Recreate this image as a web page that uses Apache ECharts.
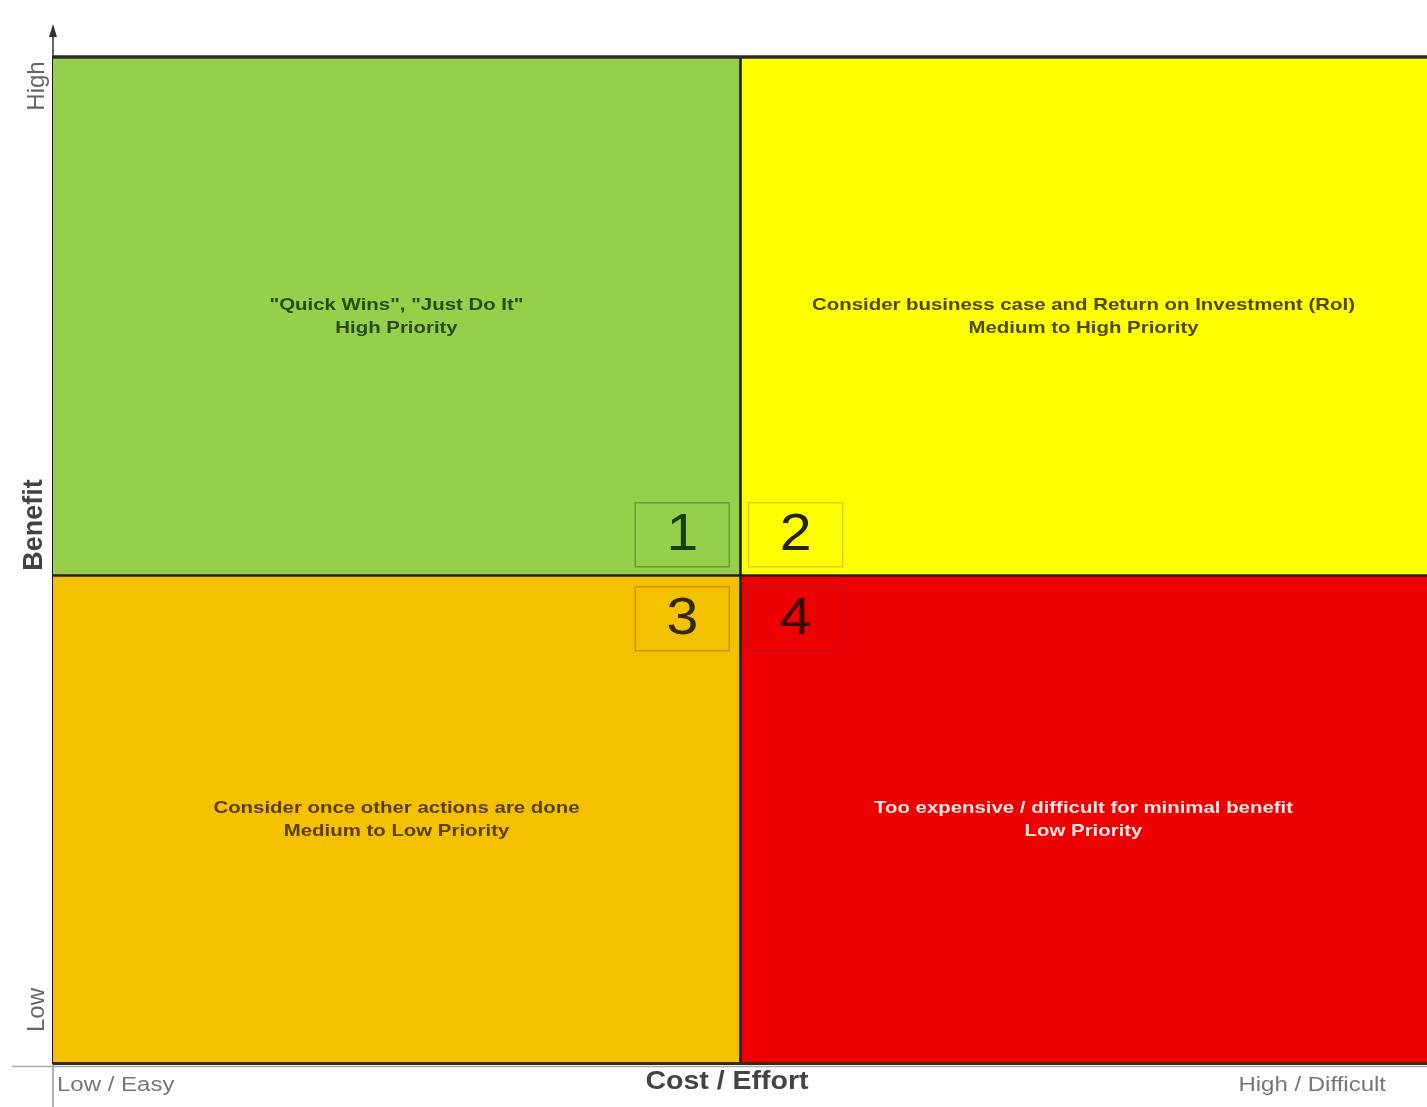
<!DOCTYPE html>
<html><head><meta charset="utf-8">
<script src="https://cdn.jsdelivr.net/npm/echarts@6/dist/echarts.min.js"></script>
<style>html,body{margin:0;padding:0;background:#fff}#c{width:1427px;height:1107px}</style>
</head><body><div id="c"></div>
<script>
// quadrant extents in data units: [x0, x1, y0, y1]
const xSplit = 1.0;
const ySplit = 0.968;
const quadrantBounds = [[0,xSplit,ySplit,2],[xSplit,2,ySplit,2],[0,xSplit,0,ySplit],[xSplit,2,0,ySplit]];
const quadrantTitles = ['"Quick Wins", "Just Do It"','Consider business case and Return on Investment (RoI)','Consider once other actions are done','Too expensive / difficult for minimal benefit'];
const quadrantPriorities = ['High Priority','Medium to High Priority','Medium to Low Priority','Low Priority'];
const numberLabels = ['1','2','3','4'];
const numberX = [0.916, 1.081, 0.916, 1.081];
const numberY = [1.050, 1.050, 0.883, 0.883];
const xTickLabels = ['Low / Easy','High / Difficult'];
const yTickLabels = ['Low','High'];
const xAxisTitle = 'Cost / Effort';
const yAxisTitle = 'Benefit';

const fillColors = ['#97cf4b','#ffff00','#f4c100','#ee0000'];
const textColors = ['#2a4a17','#4e4800','#5a3f00','#ffe6e6'];
const numColors = ['#1b3d0f','#222210','#33260a','#3a0606'];
const boxBorders = ['rgba(60,110,40,0.5)','rgba(150,150,80,0.4)','rgba(150,110,40,0.5)','rgba(120,40,110,0.4)'];
const FONT = '"Liberation Sans", Arial, sans-serif';
const SX = 1.2;

const chart = echarts.init(document.getElementById('c'));
const L = 53, T = 57, B = 44;

const quadData = quadrantBounds.map((b,i)=>({value:[b[0],b[1],b[2],b[3],i]}));
const numData = numberLabels.map((n,i)=>({value:[numberX[i],numberY[i],i]}));

chart.setOption({
  animation:false,
  grid:{left:L,top:T,right:0,bottom:B,containLabel:false},
  xAxis:{type:'value',min:0,max:2,interval:1,axisLine:{show:false},axisTick:{show:false},axisLabel:{show:false},splitLine:{show:false}},
  yAxis:{type:'value',min:0,max:2,interval:1,axisLine:{show:true,onZero:false,lineStyle:{color:'#1a1a1a',width:2}},axisTick:{show:false},axisLabel:{show:false},splitLine:{show:false}},
  series:[
    {type:'custom',data:quadData,clip:false,
      renderItem:function(params,api){
        const i=api.value(4);
        const p0=api.coord([api.value(0),api.value(3)]);
        const p1=api.coord([api.value(1),api.value(2)]);
        const cx=(p0[0]+p1[0])/2, cy=(p0[1]+p1[1])/2;
        return {type:'group',children:[
          {type:'rect',shape:{x:p0[0],y:p0[1],width:p1[0]-p0[0],height:p1[1]-p0[1]},style:{fill:fillColors[i]}},
          {type:'text',x:cx,y:cy,scaleX:SX,style:{text:quadrantTitles[i]+'\n'+quadrantPriorities[i],fill:textColors[i],
            font:'bold 17px '+FONT,align:'center',verticalAlign:'middle',lineHeight:23}}
        ]};
      },
      markLine:{silent:true,symbol:'none',label:{show:false},
        data:[
          {xAxis:xSplit,lineStyle:{color:'#1e1e1e',width:2.5,type:'solid'}},
          {yAxis:ySplit,lineStyle:{color:'#1e1e1e',width:2.5,type:'solid'}},
          {yAxis:2,lineStyle:{color:'#2b2b2b',width:3.5,type:'solid'}},
          {yAxis:0,lineStyle:{color:'#3a2a10',width:3,type:'solid'}}
        ]}
    },
    {type:'custom',data:numData,z:5,
      renderItem:function(params,api){
        const i=api.value(2);
        const c=api.coord([api.value(0),api.value(1)]);
        return {type:'group',children:[
          {type:'rect',shape:{x:c[0]-47,y:c[1]-32,width:94,height:64},style:{fill:'none',stroke:boxBorders[i],lineWidth:1.5}},
          {type:'text',x:c[0],y:c[1]+1,scaleX:1.1,style:{text:numberLabels[i],fill:numColors[i],font:'52px '+FONT,align:'center',verticalAlign:'middle'}}
        ]};
      }
    }
  ],
  graphic:[
    {type:'line',shape:{x1:L,y1:28,x2:L,y2:T},style:{stroke:'#333',lineWidth:1.5}},
    {type:'polygon',shape:{points:[[L-4,37],[L+4,37],[L,24]]},style:{fill:'#333'}},
    {type:'line',shape:{x1:L,y1:1063,x2:L,y2:1107},style:{stroke:'#999',lineWidth:1.5}},
    {type:'line',shape:{x1:12,y1:1066.5,x2:1427,y2:1066.5},style:{stroke:'#aaa',lineWidth:1.5}},
    {type:'text',x:37,y:86,rotation:Math.PI/2,style:{text:yTickLabels[1],font:'24px '+FONT,fill:'#666',align:'center',verticalAlign:'middle'}},
    {type:'text',x:37,y:1010,rotation:Math.PI/2,style:{text:yTickLabels[0],font:'24px '+FONT,fill:'#666',align:'center',verticalAlign:'middle'}},
    {type:'text',x:35,y:525,rotation:Math.PI/2,style:{text:yAxisTitle,font:'bold 27px '+FONT,fill:'#444',align:'center',verticalAlign:'middle'}},
    {type:'text',x:57,y:1085,scaleX:SX,style:{text:xTickLabels[0],font:'20px '+FONT,fill:'#777',align:'left',verticalAlign:'middle'}},
    {type:'text',x:1386,y:1085,scaleX:SX,style:{text:xTickLabels[1],font:'20px '+FONT,fill:'#777',align:'right',verticalAlign:'middle'}},
    {type:'text',x:727,y:1082,scaleX:1.14,style:{text:xAxisTitle,font:'bold 25px '+FONT,fill:'#444',align:'center',verticalAlign:'middle'}}
  ]
});
</script></body></html>
